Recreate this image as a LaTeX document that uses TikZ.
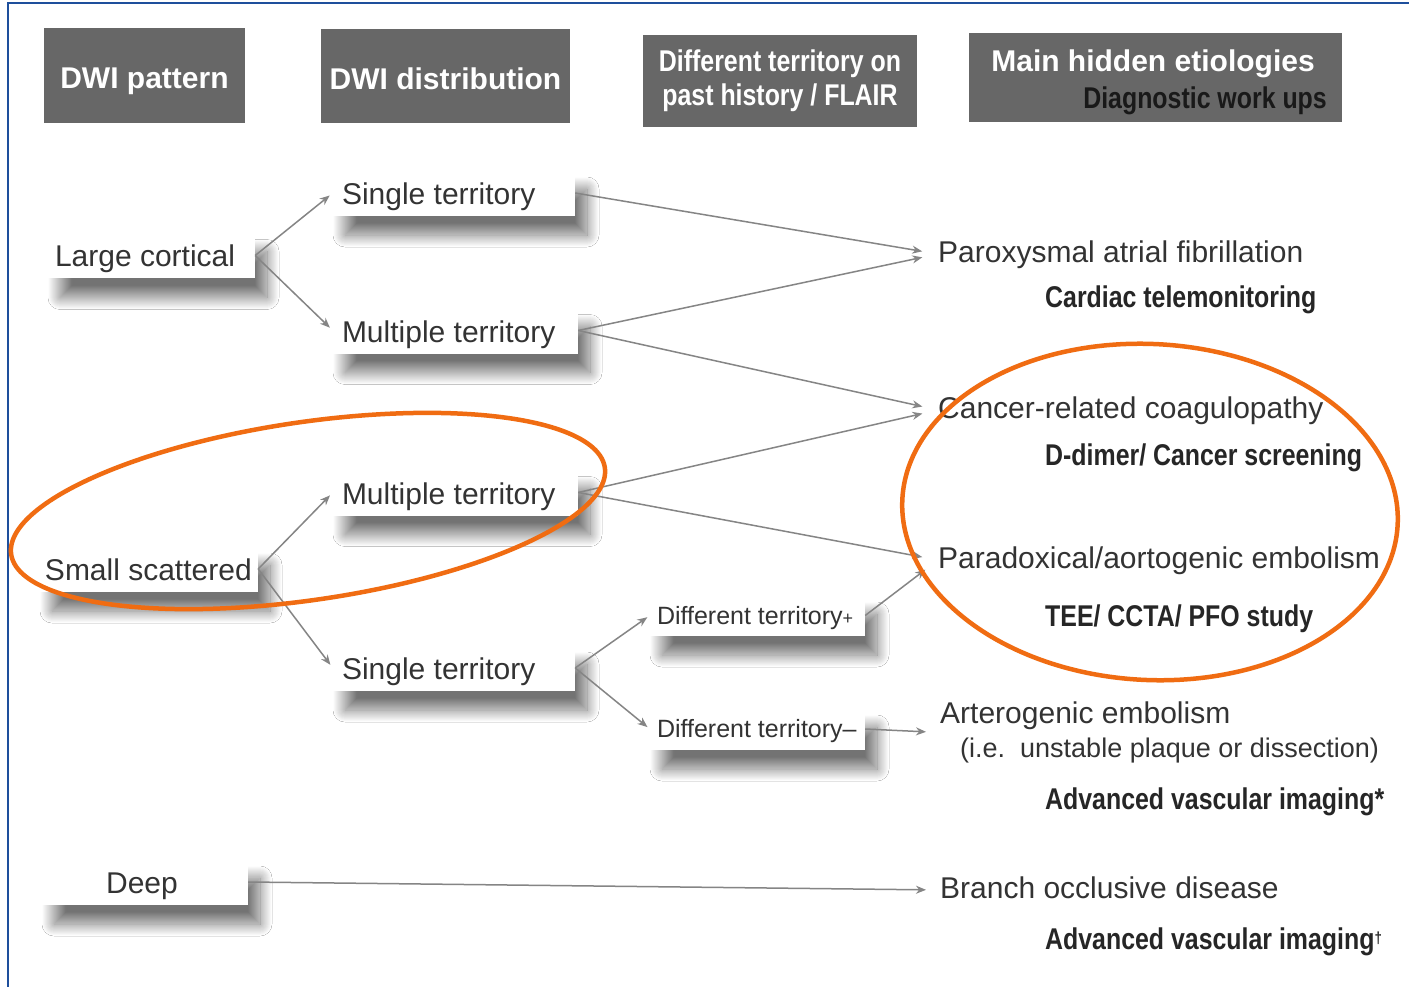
\documentclass[tikz,border=0pt]{standalone}
\usepackage{fontspec}
\setmainfont{Liberation Sans}
\newfontfamily\condb[FakeStretch=0.83]{Liberation Sans Bold}
\usetikzlibrary{arrows.meta,shadows.blur}
\definecolor{hdrgray}{HTML}{676767}
\definecolor{txt}{HTML}{333333}
\definecolor{arrg}{HTML}{858585}
\definecolor{borderblue}{HTML}{1E4F9C}
\definecolor{orng}{HTML}{F06C12}
\newcommand\lbx[2]{\makebox[#1][l]{#2}}
\begin{document}
\begin{tikzpicture}[x=1pt,y=-1pt,
  every node/.style={font=\fontsize{30}{34}\selectfont, text=txt},
  hdr/.style={fill=hdrgray, text=white, inner sep=0pt, font=\bfseries\fontsize{30}{34}\selectfont, align=center},
  wbox/.style={fill=white, inner xsep=9pt, inner ysep=0pt, minimum height=46pt, text height=25pt, text depth=2pt,
    blur shadow={shadow xshift=12pt, shadow yshift=-19pt, shadow blur radius=12pt, shadow blur steps=24, shadow opacity=55}},
  lbl/.style={anchor=west, inner sep=0pt, text height=22pt, text depth=6pt},
  wk/.style={anchor=west, inner sep=0pt, font=\condb\fontsize{30}{34}\selectfont, text=black!85},
  arr/.style={draw=arrg, line width=1.5pt, -{Stealth[length=10pt,width=8pt]}},
  oval/.style={draw=orng, line width=4.5pt}
]
\useasboundingbox (0,0) rectangle (1409,987);
\fill[white] (0,0) rectangle (1409,987);
\draw[borderblue, line width=2.5pt] (8,987) -- (8,3) -- (1409,3);

% headers
\node[hdr, minimum width=201pt, minimum height=95pt, text height=28pt, text depth=1.5pt] (h1) at (144.5,75.5) {DWI pattern};
\node[hdr, minimum width=249pt, minimum height=94pt, text height=28pt, text depth=1.5pt] (h2) at (445.5,76) {DWI distribution};
\node[hdr, minimum width=274pt, minimum height=92pt, font=\condb\fontsize{30}{34}\selectfont] (h3) at (780,81) {Different territory on\\past history / FLAIR};
\node[hdr, minimum width=373pt, minimum height=89pt] (h4) at (1155.5,77.5) {};
\node[text=white, font=\bfseries\fontsize{30}{34}\selectfont, inner sep=0pt] (h4a) at (1153,63.5) {Main hidden etiologies};
\node[anchor=east, font=\condb\fontsize{30}{34}\selectfont, text=black!90, inner sep=0pt] (h4b) at (1327,101) {Diagnostic work ups};

% left column
\node[wbox, inner xsep=7pt] (lc) at (151.5,255.5) {\lbx{193pt}{Large cortical}};
\node[wbox, inner xsep=5pt] (ss) at (149,569) {\lbx{208pt}{Small scattered}};
\node[wbox, minimum width=206pt] (dp) at (145,882) {Deep\hspace*{6pt}};

% middle column
\node[wbox] (st1) at (454,193) {\lbx{224pt}{Single territory}};
\node[wbox] (mt1) at (455.5,330.5) {\lbx{227pt}{Multiple territory}};
\node[wbox] (mt2) at (455.5,492.5) {\lbx{227pt}{Multiple territory}};
\node[wbox] (st2) at (454,668) {\lbx{224pt}{Single territory}};

% third column
\node[wbox, inner xsep=7pt, minimum height=41pt, text height=20pt, text depth=3pt, font=\fontsize{25}{30}\selectfont] (dfp) at (757.5,615.5) {\lbx{201pt}{Different territory{\fontsize{18}{18}\selectfont +}}};
\node[wbox, inner xsep=7pt, minimum height=42pt, text height=20pt, text depth=3pt, font=\fontsize{25}{30}\selectfont] (dfm) at (757.5,729) {\lbx{201pt}{Different territory–}};

% right column
\node[lbl] (pa) at (938,254) {Paroxysmal atrial fibrillation};
\node[wk] (ct) at (1045,300) {Cardiac telemonitoring};
\node[lbl] (cc) at (938,410) {Cancer-related coagulopathy};
\node[wk] (dd) at (1045,458) {D-dimer/ Cancer screening};
\node[lbl] (pe) at (938,560) {Paradoxical/aortogenic embolism};
\node[wk] (tee) at (1045,619) {TEE/ CCTA/ PFO study};
\node[anchor=west, inner sep=0pt, align=left] (ae) at (940,732.5) {Arterogenic embolism\\{\fontsize{27}{32}\selectfont\hspace*{20pt}(i.e.\ \ unstable plaque or dissection)}};
\node[wk] (av1) at (1045,802) {Advanced vascular imaging*};
\node[lbl] (bo) at (940,890) {Branch occlusive disease};
\node[wk] (av2) at (1045,942) {Advanced vascular imaging\raisebox{6pt}{\fontsize{16}{16}\selectfont †}};

% connectors
\draw[arr, shorten >=4pt] (lc.east) -- (st1.west);
\draw[arr, shorten >=4pt] (lc.east) -- (mt1.west);
\draw[arr, shorten >=4pt] (ss.east) -- (mt2.west);
\draw[arr, shorten >=4pt] (ss.east) -- (st2.west);
\draw[arr, shorten >=16pt] (st1.east) -- (pa.west);
\draw[arr, shorten >=16pt] (mt1.east) -- (pa.west);
\draw[arr, shorten >=16pt] (mt1.east) -- (cc.west);
\draw[arr, shorten >=16pt] (mt2.east) -- (cc.west);
\draw[arr, shorten >=16pt] (mt2.east) -- (pe.west);
\draw[arr, shorten >=3pt] (st2.east) -- (dfp.west);
\draw[arr, shorten >=3pt] (st2.east) -- (dfm.west);
\draw[arr, shorten >=16pt] (dfp.east) -- (pe.west);
\draw[arr, shorten >=14pt] (dfm.east) -- (ae.west);
\draw[arr, shorten >=14pt] (dp.east) -- (bo.west);

% orange ellipses
\draw[oval] plot[domain=0:357, samples=120, smooth cycle, variable=\t]
  ({308 + 300*cos(\t)*cos(8.3) + 89*sin(\t)*sin(8.3)}, {511 - 300*cos(\t)*sin(8.3) + 89*sin(\t)*cos(8.3)});
\draw[oval] plot[domain=0:357, samples=120, smooth cycle, variable=\t]
  ({1150 + 248*cos(\t)*cos(-3) + 168*sin(\t)*sin(-3)}, {512 - 248*cos(\t)*sin(-3) + 168*sin(\t)*cos(-3)});
\end{tikzpicture}
\end{document}
